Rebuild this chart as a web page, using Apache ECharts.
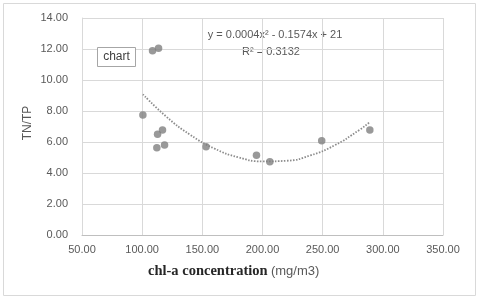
<!DOCTYPE html>
<html><head><meta charset="utf-8">
<script src="https://cdn.jsdelivr.net/npm/echarts@6/dist/echarts.min.js"></script>
<style>html,body{margin:0;padding:0;background:#fff}#c{width:480px;height:300px}</style>
</head><body><div id="c"></div>
<script>
// Observed points (chl-a, TN/TP)
const chlA = [108.6, 113.6, 100.6, 112.8, 116.9, 112.2, 118.6, 153.1, 195.0, 206.1, 249.2, 289.2];
const tnTp = [11.89, 12.05, 7.74, 6.50, 6.77, 5.63, 5.81, 5.70, 5.14, 4.73, 6.08, 6.77];
// Trend line points
const trendX = [100.6, 120, 140, 160, 180, 200, 220, 240, 260, 280, 288.6];
const trendY = [9.08, 7.64, 6.46, 5.58, 5.01, 4.75, 4.79, 5.14, 5.79, 6.75, 7.25];
const xTicks = [50, 350, 50];  // min, max, interval
const yTicks = [0, 14, 2];
const equationText = 'y = 0.0004x² - 0.1574x + 21';
const r2Text = 'R² = 0.3132';
const yName = 'TN/TP';
const legendText = 'chart';

const chart = echarts.init(document.getElementById('c'), null, {renderer: 'canvas'});
const font = 'Liberation Sans, Arial, sans-serif';
chart.setOption({
  animation: false,
  grid: {left: 82, right: 37, top: 18, bottom: 65},
  xAxis: {
    type: 'value', min: xTicks[0], max: xTicks[1], interval: xTicks[2],
    axisLine: {show: true, lineStyle: {color: '#bfbfbf'}},
    axisTick: {show: false},
    splitLine: {show: true, lineStyle: {color: '#d9d9d9', width: 1}},
    axisLabel: {color: '#595959', fontSize: 11, fontFamily: font, margin: 9, formatter: v => v.toFixed(2)}
  },
  yAxis: {
    type: 'value', min: yTicks[0], max: yTicks[1], interval: yTicks[2],
    axisLine: {show: true, lineStyle: {color: '#d9d9d9'}},
    axisTick: {show: false},
    splitLine: {show: true, lineStyle: {color: '#d9d9d9', width: 1}},
    axisLabel: {color: '#595959', fontSize: 11, fontFamily: font, margin: 14, formatter: v => v.toFixed(2)}
  },
  series: [
    {
      type: 'line', data: trendX.map((x, i) => [x, trendY[i]]), smooth: true,
      showSymbol: false, silent: true,
      lineStyle: {color: '#8c8c8c', width: 1.8, type: [1.5, 1.5]}, z: 1
    },
    {
      type: 'scatter', data: chlA.map((x, i) => [x, tnTp[i]]),
      symbol: 'circle', symbolSize: 7.5,
      itemStyle: {color: '#7f7f7f'}, z: 3
    }
  ],
  graphic: [
    {type: 'rect', shape: {x: 3.5, y: 3.5, width: 472, height: 292},
     style: {fill: null, stroke: '#d9d9d9', lineWidth: 1}, z: -1, silent: true},
    {type: 'text', x: 28, y: 123, rotation: Math.PI / 2,
     style: {text: yName, fill: '#595959', font: '12px ' + font, align: 'center', verticalAlign: 'middle'}},
    {type: 'text', x: 275, y: 35, style: {text: equationText, fill: '#595959', font: '11px ' + font, align: 'center', verticalAlign: 'middle'}},
    {type: 'text', x: 271, y: 52, style: {text: r2Text, fill: '#595959', font: '11px ' + font, align: 'center', verticalAlign: 'middle'}},
    {type: 'rect', shape: {x: 97.5, y: 47.5, width: 38, height: 19},
     style: {fill: '#fff', stroke: '#a6a6a6', lineWidth: 1}, z: 5},
    {type: 'text', x: 116.5, y: 57, z: 6, style: {text: legendText, fill: '#404040', font: '12px ' + font, align: 'center', verticalAlign: 'middle'}},
    {type: 'text', x: 148, y: 271, style: {
      text: '{a|chl-a concentration} {b|(mg/m3)}', verticalAlign: 'middle',
      rich: {
        a: {fontFamily: 'Liberation Serif, Times New Roman, serif', fontWeight: 'bold', fontSize: 14.5, fill: '#262626'},
        b: {fontFamily: font, fontSize: 13, fill: '#595959'}
      }}}
  ]
});
</script>
</body></html>
